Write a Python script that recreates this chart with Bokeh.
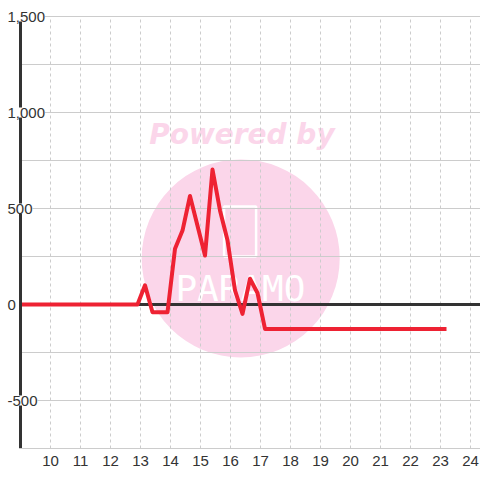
from bokeh.plotting import figure
from bokeh.models import FixedTicker, Range1d
from bokeh.core.properties import value
from bokeh.embed import file_html
from bokeh.resources import INLINE

# ---- data ----
hours = [9.0, 12.9, 13.15, 13.4, 13.9, 14.15, 14.4, 14.65, 15.15, 15.4, 15.65,
         15.9, 16.15, 16.4, 16.65, 16.9, 17.15, 23.2]
values = [0, 0, 100, -40, -40, 290, 385, 565, 255, 703, 490,
          335, 73, -49, 134, 60, -127, -127]

x_tick_values = list(range(10, 25))
y_grid_values = [-500, -250, 0, 250, 500, 750, 1000, 1250, 1500]
y_label_values = [-500, 0, 500, 1000, 1500]
y_label_texts = ["-500", "0", "500", "1,000", "1,500"]

x_min, x_max = 9, 24.3333
y_min, y_max = -750, 1500

watermark_text = "Powered by"
logo_text = "PARAMO"

# ---- style ----
RED = "#EE2233"
DARK = "#333333"
GRID = "#cccccc"
PINK = "#FBD6EA"
FONT = "Liberation Sans"

p = figure(frame_width=480, frame_height=448,
           min_border_left=0, min_border_top=0, min_border_right=0, min_border_bottom=32,
           x_range=Range1d(x_min - 20 / 30, x_max), y_range=Range1d(y_min, y_max + 16 / 0.192),
           output_backend="svg", toolbar_location=None)
p.outline_line_color = None
p.background_fill_color = "white"
p.border_fill_color = "white"
p.grid.visible = False
p.yaxis.visible = False

# watermark
p.scatter(x=[16.34], y=[240], size=198, marker="circle", fill_color=PINK, line_color=None)
p.text(x=[16.38], y=[885], text=[watermark_text], text_font=value("DejaVu Sans"),
       text_font_style="bold italic", text_font_size="28px", text_color=PINK,
       text_align="center", text_baseline="alphabetic")
p.rect(x=[16.32], y=[380], width=32, height=50, width_units="screen",
       height_units="screen", fill_color=None, line_color="white", line_width=2.5)
p.text(x=[16.33], y=[85], text=[logo_text], text_font=value("DejaVu Sans Mono"),
       text_font_size="36px", text_color="white", text_align="center",
       text_baseline="middle")

# grid lines drawn from the tick lists
p.segment(x0=[x_min] * len(y_grid_values), x1=[x_max] * len(y_grid_values),
          y0=y_grid_values, y1=y_grid_values, line_color=GRID, line_width=1)
p.segment(x0=x_tick_values, x1=x_tick_values,
          y0=[y_min] * len(x_tick_values), y1=[y_max] * len(x_tick_values),
          line_color=GRID, line_width=1, line_dash="3 3")

# zero line and data line
p.segment(x0=[x_min], x1=[x_max], y0=[0], y1=[0], line_color=DARK, line_width=3)
p.line(hours, values, line_color=RED, line_width=4, line_join="round")

# y axis line
p.segment(x0=[x_min], x1=[x_min], y0=[y_min], y1=[y_max], line_color=DARK, line_width=3)

# y tick labels over the axis line
p.text(x=[x_min] * len(y_label_values), y=y_label_values, text=y_label_texts,
       x_offset=-13, text_align="left", text_baseline="middle",
       text_font=value(FONT), text_font_size="15px", text_color=DARK,
       background_fill_color="white")

# x axis
p.xaxis.ticker = FixedTicker(ticks=x_tick_values)
p.xaxis.bounds = (x_min, x_max)
p.xaxis.axis_line_color = GRID
p.xaxis.axis_line_width = 1
p.xaxis.major_tick_line_color = None
p.xaxis.minor_tick_line_color = None
p.xaxis.major_label_text_font = FONT
p.xaxis.major_label_text_font_size = "15px"
p.xaxis.major_label_text_color = DARK
p.xaxis.major_label_standoff = 1

open("out.html", "w").write(file_html(p, INLINE))
